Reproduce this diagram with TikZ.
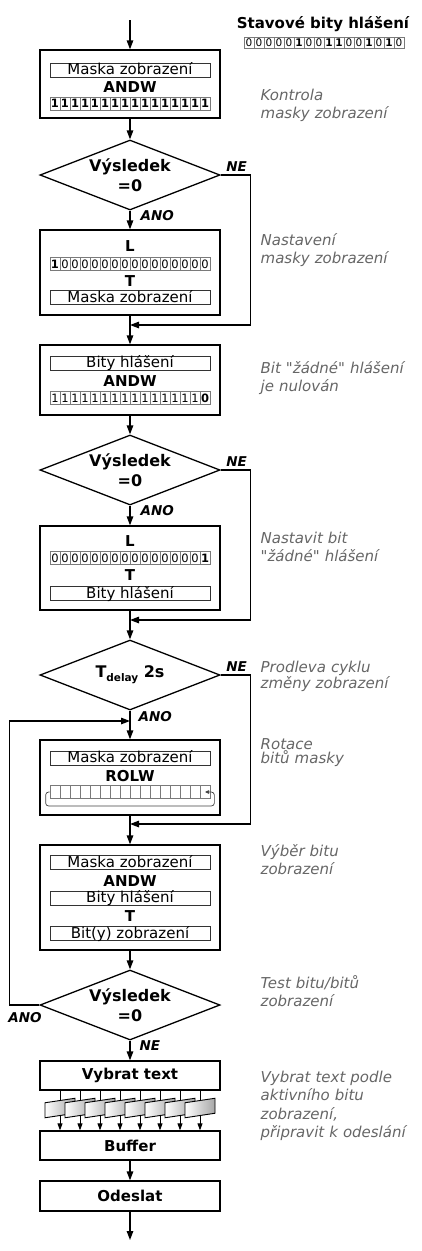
\documentclass[tikz,border=0pt]{standalone}
\usepackage{fontspec}
\setmainfont{DejaVu Sans}[Ligatures=TeXOff]
\usetikzlibrary{arrows.meta, positioning, shapes.geometric}
\definecolor{notegray}{HTML}{666666}
\definecolor{cellgray}{HTML}{7A7A7A}

\begin{document}
\begin{tikzpicture}[
    x=1pt, y=-1pt,
    line width=1.3pt,
    >={Triangle[length=9pt,width=6.5pt]}, % Arrow style
    box/.style={draw, rectangle, minimum width=180pt, inner sep=0pt},
    cond/.style={draw, diamond, minimum width=180pt, minimum height=70pt, inner sep=0pt},
    field/.style={draw=black!80, line width=0.9pt, minimum width=160pt, minimum height=14pt, inner sep=0pt, text height=11.5pt, text depth=2.5pt, font=\fontsize{15}{15}\selectfont},
    bit/.style={draw=cellgray, line width=0.7pt, minimum width=10pt, minimum height=13pt, inner sep=0pt, font=\fontsize{11.5}{11.5}\selectfont},
    op/.style={inner sep=0pt, font=\fontsize{15}{15}\selectfont\bfseries},
    ctext/.style={align=center, inner sep=0pt, font=\fontsize{16}{20}\selectfont\bfseries},
    note/.style={anchor=base west, text width=165pt, align=left, inner sep=0pt, text=notegray, font=\fontsize{15}{18.5}\selectfont\itshape},
    tight/.style={font=\fontsize{15}{14}\selectfont\itshape},
    yes/.style={font=\fontsize{13.5}{13.5}\selectfont\bfseries\itshape, inner sep=1pt},
    doc/.style={draw, line width=0.9pt, minimum width=30pt, minimum height=15pt, inner sep=0pt, yslant=0.15, transform shape, left color=white, right color=black!35}
]
\useasboundingbox (0,0) rectangle (421,1251);

% Nodes
\node[anchor=base, font=\fontsize{15}{15}\selectfont\bfseries] (TTL) at (323,28) {Stavové bity hlášení};
\foreach \b [count=\i] in {0,0,0,0,0,\textbf{1},0,0,\textbf{1},\textbf{1},0,0,\textbf{1},0,\textbf{1},0}
    \node[bit, minimum height=11pt, font=\fontsize{10.5}{10.5}\selectfont] (SB\i) at (239+10*\i,42.5) {\b};

\coordinate (IN) at (130,20);
\node[box, minimum height=68pt] (CHK) at (130,84) {};
\node[field] (CHKf) at (130,70) {Maska zobrazení};
\node[op] (CHKop) at (130,87) {ANDW};
\foreach \i in {1,...,16}
    \node[bit] (CHKb\i) at (45+10*\i,103.5) {\textbf{1}};

\node[cond, label={[ctext]center:{Výsledek\\=0}}] (Z1) at (130,175) {};

\node[box, minimum height=85pt] (SET) at (130,272.5) {};
\node[op] (SETl) at (130,246.5) {L};
\foreach \b [count=\i] in {\textbf{1},0,0,0,0,0,0,0,0,0,0,0,0,0,0,0}
    \node[bit] (SETb\i) at (45+10*\i,264) {\b};
\node[op] (SETt) at (130,281) {T};
\node[field] (SETf) at (130,297.5) {Maska zobrazení};
\coordinate (M1) at (130,325);

\node[box, minimum height=70pt] (CLR) at (130,380) {};
\node[field] (CLRf) at (130,363) {Bity hlášení};
\node[op] (CLRop) at (130,381.5) {ANDW};
\foreach \b [count=\i] in {1,1,1,1,1,1,1,1,1,1,1,1,1,1,1,\textbf{0}}
    \node[bit] (CLRb\i) at (45+10*\i,398) {\b};

\node[cond, label={[ctext]center:{Výsledek\\=0}}] (Z2) at (130,470) {};

\node[box, minimum height=84pt] (NUL) at (130,568) {};
\node[op] (NULl) at (130,541.5) {L};
\foreach \b [count=\i] in {0,0,0,0,0,0,0,0,0,0,0,0,0,0,0,\textbf{1}}
    \node[bit] (NULb\i) at (45+10*\i,558) {\b};
\node[op] (NULt) at (130,575.5) {T};
\node[field] (NULf) at (130,593.5) {Bity hlášení};
\coordinate (M2) at (130,620);

\node[cond, label={[ctext]center:{T\raisebox{-4pt}{\fontsize{10.5}{10.5}\selectfont delay} 2s}}] (TD) at (130,675) {};
\coordinate (M4) at (130,721);

\node[box, minimum height=75pt] (ROT) at (130,777.5) {};
\node[field] (ROTf) at (130,758) {Maska zobrazení};
\node[op] (ROTop) at (130,776) {ROLW};
\foreach \i in {1,...,16}
    \node[bit] (ROTb\i) at (45+10*\i,792) {};
\coordinate (M3) at (130,824);

\node[box, minimum height=105pt] (SEL) at (130,897.5) {};
\node[field] (SELf) at (130,862.5) {Maska zobrazení};
\node[op] (SELop) at (130,881) {ANDW};
\node[field] (SELg) at (130,898) {Bity hlášení};
\node[op] (SELt) at (130,916) {T};
\node[field] (SELh) at (130,933.5) {Bit(y) zobrazení};

\node[cond, label={[ctext]center:{Výsledek\\=0}}] (Z3) at (130,1005) {};

\node[box, minimum height=29pt, font=\fontsize{15}{15}\selectfont\bfseries] (TXT) at (130,1075.5) {Vybrat text};
\foreach \i in {1,...,8}
    \node[doc] (DOC\i) at (40+20*\i,1108) {};
\node[box, minimum height=29pt, font=\fontsize{15}{15}\selectfont\bfseries] (BUF) at (130,1145.5) {Buffer};
\node[box, minimum height=30pt, font=\fontsize{15}{15}\selectfont\bfseries] (SND) at (130,1196) {Odeslat};
\coordinate (OUT) at (130,1240);

% Notes
\node[note] (N1) at (260,100) {Kontrola\\masky zobrazení};
\node[note] (N2) at (260,245) {Nastavení\\masky zobrazení};
\node[note] (N3) at (260,373) {Bit "žádné" hlášení\\je nulován};
\node[note] (N4) at (260,543) {Nastavit bit\\"žádné" hlášení};
\node[note, tight] (N5) at (260,672) {Prodleva cyklu\\změny zobrazení};
\node[note, tight] (N6) at (260,749) {Rotace\\bitů masky};
\node[note] (N7) at (260,856) {Výběr bitu\\zobrazení};
\node[note] (N8) at (260,988) {Test bitu/bitů\\zobrazení};
\node[note] (N9) at (260,1082) {Vybrat text podle\\aktivního bitu\\zobrazení,\\připravit k odeslání};

% Arrows
\draw[->] (IN) -- (CHK);
\draw[->] (CHK) -- (Z1);
\draw[->] (Z1) -- node[yes, pos=0.27, right=9pt] (A1) {ANO} (SET);
\draw[->] (Z1.east) -- node[yes, pos=0, above right=2pt and 4pt] (E1) {NE} ++(30,0) |- (M1);
\draw[->] (SET) -- (CLR);
\draw[->] (CLR) -- (Z2);
\draw[->] (Z2) -- node[yes, pos=0.27, right=9pt] (A2) {ANO} (NUL);
\draw[->] (Z2.east) -- node[yes, pos=0, above right=2pt and 4pt] (E2) {NE} ++(30,0) |- (M2);
\draw[->] (NUL) -- (TD);
\draw[->] (TD) -- node[yes, pos=0.2, right=7pt] (A3) {ANO} (ROT);
\draw[->] (TD.east) -- node[yes, pos=0, above right=2pt and 4pt] (E3) {NE} ++(30,0) |- (M3);
\draw[->, line width=0.7pt, draw=black!75, >={Triangle[length=4pt,width=3.5pt]}, rounded corners=3pt]
    (ROTb1.west) -- ++(-4,0) -- ++(0,14) -| ([xshift=4pt]ROTb16.east) -- (ROTb16.center);
\draw[->] (ROT) -- (SEL);
\draw[->] (SEL) -- (Z3);
\draw[->] (Z3.west) -- node[yes, pos=0, below left=6pt and -4pt] (A4) {ANO} ++(-30,0) |- (M4);
\draw[->] (Z3) -- node[yes, pos=0.27, right=8pt] (E4) {NE} (TXT);
\foreach \i in {1,...,8} {
    \draw[line width=0.9pt] (TXT.south -| DOC\i.north) -- (DOC\i.north);
    \draw[->, line width=0.9pt, >={Triangle[length=7pt,width=5pt]}] (DOC\i.south) -- (DOC\i.south |- BUF.north);
}
\draw[->] (BUF) -- (SND);
\draw[->] (SND) -- (OUT);

\end{tikzpicture}
\end{document}
